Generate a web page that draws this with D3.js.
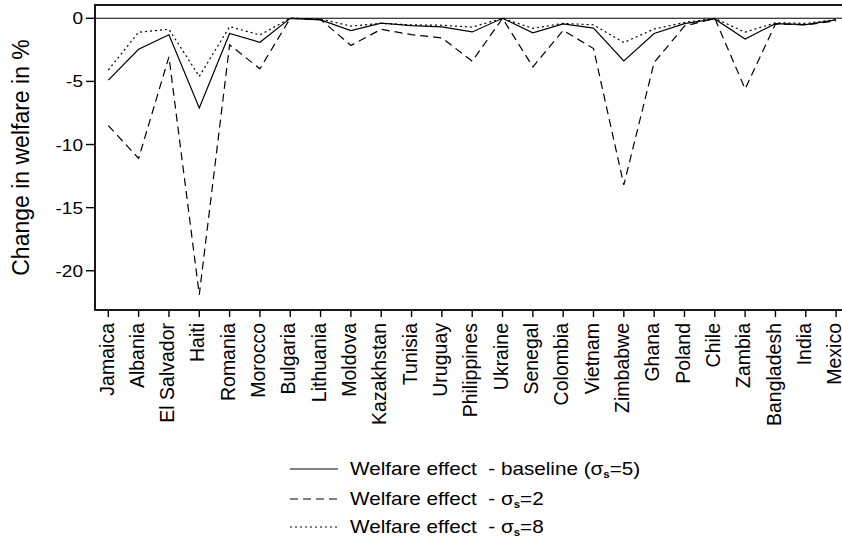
<!DOCTYPE html>
<html>
<head>
<meta charset="utf-8">
<script src="https://cdn.jsdelivr.net/npm/d3@7"></script>
<style>
  html, body { margin: 0; padding: 0; background: #fff; }
  svg { display: block; }
  text { font-family: "Liberation Sans", Arial, sans-serif; fill: #000; }
</style>
</head>
<body>
<svg id="chart" width="842" height="543"></svg>
<script>
const countries = ["Jamaica","Albania","El Salvador","Haiti","Romania","Morocco","Bulgaria","Lithuania","Moldova","Kazakhstan","Tunisia","Uruguay","Philippines","Ukraine","Senegal","Colombia","Vietnam","Zimbabwe","Ghana","Poland","Chile","Zambia","Bangladesh","India","Mexico"];
const baseline = [-4.9,-2.45,-1.3,-7.1,-1.2,-1.9,0,-0.12,-0.98,-0.38,-0.58,-0.68,-1.08,0,-1.15,-0.45,-0.78,-3.38,-1.2,-0.42,-0.05,-1.64,-0.42,-0.5,-0.12];
const sigma2   = [-8.5,-11.1,-3.05,-21.9,-2.1,-4.0,0,-0.1,-2.15,-0.87,-1.3,-1.55,-3.4,0,-3.85,-0.95,-2.4,-13.2,-3.5,-0.62,0,-5.6,-0.45,-0.52,-0.2];
const sigma8   = [-4.1,-1.1,-0.87,-4.6,-0.66,-1.32,0,-0.05,-0.62,-0.4,-0.52,-0.55,-0.7,0,-0.8,-0.4,-0.52,-1.92,-0.85,-0.33,0,-1.1,-0.35,-0.4,-0.1];
const yTicks = [0,-5,-10,-15,-20];
const yLabel = "Change in welfare in %";
const seriesNames = ["Welfare effect  - baseline (σ|s|=5)", "Welfare effect  - σ|s|=2", "Welfare effect  - σ|s|=8"];

const svg = d3.select("#chart");
const L = 95, R = 849, T = 5, B = 310;
const x = d3.scalePoint().domain(countries).range([108.3, 836.1]);
const y = d3.scaleLinear().domain([-23.11, 1.054]).range([B, T]);

// frame
svg.append("rect").attr("x", L).attr("y", T).attr("width", R - L).attr("height", B - T)
  .attr("fill", "none").attr("stroke", "#000").attr("stroke-width", 1.8);

// zero line
svg.append("line").attr("x1", L).attr("x2", R).attr("y1", y(0)).attr("y2", y(0))
  .attr("stroke", "#000").attr("stroke-width", 1.1);

// y axis ticks
const yg = svg.append("g");
yTicks.forEach(t => {
  yg.append("line").attr("x1", L - 9).attr("x2", L).attr("y1", y(t)).attr("y2", y(t))
    .attr("stroke", "#000").attr("stroke-width", 1.4);
  yg.append("text")
    .attr("transform", `translate(83,${y(t) + 6}) scale(1.12,1)`)
    .attr("text-anchor", "end").attr("font-size", 17).text(t);
});

// y label
svg.append("text").attr("transform", `translate(29,${(T + B) / 2}) rotate(-90)`)
  .attr("text-anchor", "middle").attr("font-size", 23).text(yLabel);

// x ticks + labels
const xg = svg.append("g");
countries.forEach(c => {
  xg.append("line").attr("x1", x(c)).attr("x2", x(c)).attr("y1", B).attr("y2", B + 7)
    .attr("stroke", "#000").attr("stroke-width", 1.4);
  xg.append("text")
    .attr("transform", `translate(${x(c) + 5.2},323) rotate(-90)`)
    .attr("text-anchor", "end").attr("font-size", 19.5).text(c);
});

// lines
const styles = [
  { data: baseline, dash: null, w: 1.2 },
  { data: sigma2, dash: "8,5", w: 1.2 },
  { data: sigma8, dash: "2,3", w: 1.2 }
];
const line = d3.line().x((d, i) => x(countries[i])).y(d => y(d));
styles.forEach(s => {
  svg.append("path").datum(s.data).attr("d", line)
    .attr("fill", "none").attr("stroke", "#000").attr("stroke-width", s.w)
    .attr("stroke-dasharray", s.dash);
});

// legend
const legY = [469, 499, 527];
styles.forEach((s, i) => {
  svg.append("line").attr("x1", 290).attr("x2", 338).attr("y1", legY[i]).attr("y2", legY[i])
    .attr("stroke", "#000").attr("stroke-width", s.w).attr("stroke-dasharray", s.dash);
  const parts = seriesNames[i].split("|");
  const t = svg.append("text")
    .attr("transform", `translate(350,${legY[i] + 6}) scale(1.15,1)`)
    .attr("font-size", 18).attr("xml:space", "preserve").style("white-space", "pre");
  t.append("tspan").text(parts[0]);
  t.append("tspan").attr("font-size", 10).attr("font-weight", "bold").attr("dy", 3).text(parts[1]);
  t.append("tspan").attr("dy", -3).text(parts[2]);
});
</script>
</body>
</html>
